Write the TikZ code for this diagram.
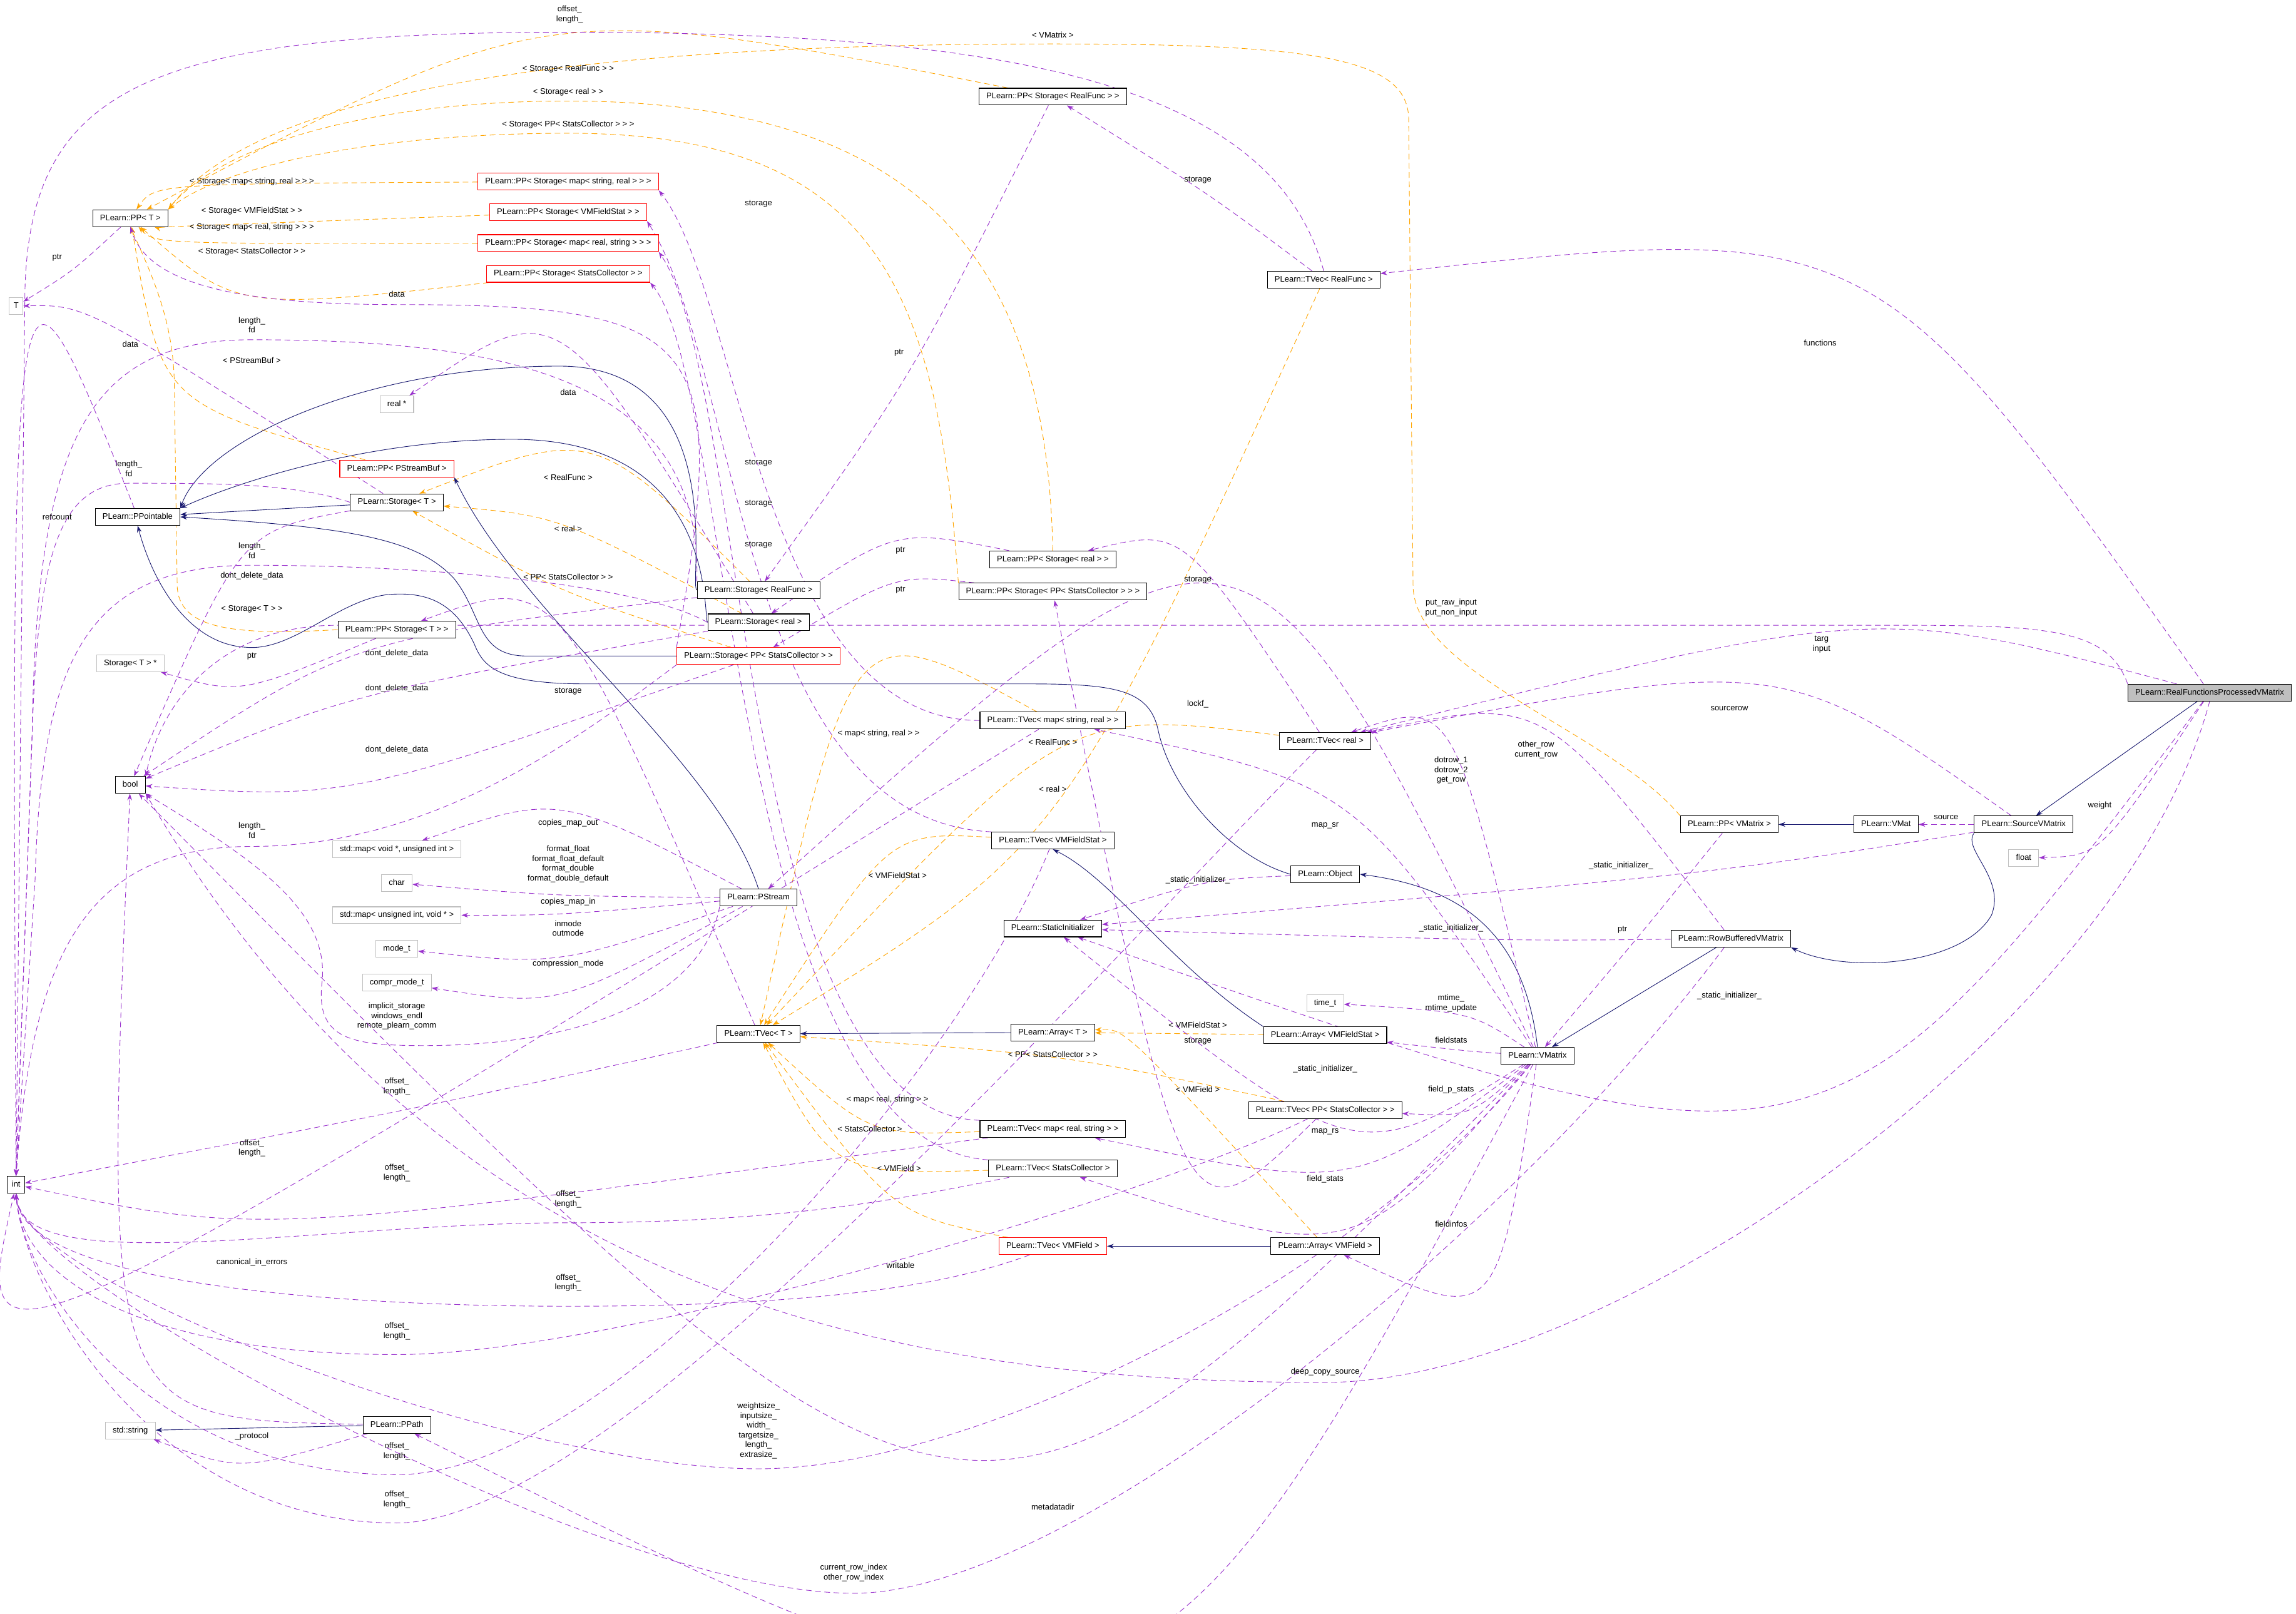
\documentclass[tikz,border=0pt]{standalone}
\usepackage{fontspec}
\setmainfont{Liberation Sans}
\usetikzlibrary{arrows.meta,calc}
\definecolor{purp}{RGB}{154,50,205}
\definecolor{orng}{RGB}{255,165,0}
\definecolor{navy}{RGB}{25,25,112}
\definecolor{gbd}{RGB}{191,191,191}
\pgfdeclarelayer{bg}
\pgfsetlayers{bg,main}
\newcounter{lab}
\newcommand\Lb[2]{\stepcounter{lab}\node[lbl] (lab\arabic{lab}) at (#1) {#2};}
\newcommand\Ed[6]{\draw[#1] (#2) .. controls ($2*(#4)-0.5*(#2)-0.5*(#3)$) .. (#3); \Lb{#5}{#6}}
\newcommand\Ei[5]{\draw[use] (#1) .. controls ($(#1)+(#2)$) and ($(#3)+(150,0)$) .. (#3) .. controls ($(#3)+(-170,0)$) and ($(int.south)+(4,60)$) .. (int.south); \Lb{#4}{#5}}
\tikzset{
 base/.style={font=\fontsize{15.8pt}{18pt}\selectfont, inner xsep=5mm, text height=4.1mm, text depth=1.2mm, minimum height=11.5mm, line width=1.3pt, fill=white},
 cls/.style={base, draw=black},
 clsred/.style={base, draw=red},
 ext/.style={base, draw=gbd},
 root/.style={base, draw=black, fill=gbd},
 lbl/.style={font=\fontsize{15.8pt}{19pt}\selectfont, align=center, inner sep=0pt},
 use/.style={draw=purp, line width=1.1pt, dash pattern=on 11pt off 7pt, -{Stealth[length=13pt,width=9pt]}},
 tmpl/.style={draw=orng, line width=1.1pt, dash pattern=on 11pt off 7pt, -{Stealth[length=13pt,width=9pt]}},
 inh/.style={draw=navy, line width=1.1pt, -{Stealth[length=13pt,width=9pt]}},
}
\begin{document}
\begin{tikzpicture}[x=1mm,y=-1mm]
\useasboundingbox (0,0) rectangle (1568,1102);
\node[cls] (ppT) at (89,149) {PLearn::PP< T >};
\node[ext, inner xsep=3mm] (T) at (11,209) {T};
\node[cls] (pptbl) at (94,353) {PLearn::PPointable};
\node[cls] (sT) at (271,343) {PLearn::Storage< T >};
\node[clsred] (ppPSB) at (271,320) {PLearn::PP< PStreamBuf >};
\node[ext] (realp) at (271,276) {real *};
\node[clsred] (ppsmsr) at (388,124) {PLearn::PP< Storage< map< string, real > > >};
\node[clsred] (ppsvfs) at (388,145) {PLearn::PP< Storage< VMFieldStat > >};
\node[clsred] (ppsmrs) at (388,166) {PLearn::PP< Storage< map< real, string > > >};
\node[clsred] (ppssc) at (388,187) {PLearn::PP< Storage< StatsCollector > >};
\node[cls] (sRF) at (518,403) {PLearn::Storage< RealFunc >};
\node[cls] (sr) at (518,425) {PLearn::Storage< real >};
\node[clsred] (sppsc) at (518,448) {PLearn::Storage< PP< StatsCollector > >};
\node[cls] (ppST) at (271,430) {PLearn::PP< Storage< T > >};
\node[ext] (sTp) at (89,453) {Storage< T > *};
\node[cls] (bool) at (89,536) {bool};
\node[ext] (map1) at (271,580) {std::map< void *, unsigned int >};
\node[ext] (chr) at (271,603) {char};
\node[ext] (map2) at (271,625) {std::map< unsigned int, void * >};
\node[ext] (modet) at (271,648) {mode\_t};
\node[ext] (compr) at (271,671) {compr\_mode\_t};
\node[cls] (ps) at (518,613) {PLearn::PStream};
\node[cls] (tvT) at (518,706) {PLearn::TVec< T >};
\node[cls, inner xsep=3mm] (int) at (11,809) {int};
\node[ext] (str) at (89,977) {std::string};
\node[cls] (ppath) at (271,973) {PLearn::PPath};
\node[cls] (ppsRF) at (719,66) {PLearn::PP< Storage< RealFunc > >};
\node[cls] (tvRF) at (904,191) {PLearn::TVec< RealFunc >};
\node[cls] (ppsr) at (719,382) {PLearn::PP< Storage< real > >};
\node[cls] (ppsppsc) at (719,404) {PLearn::PP< Storage< PP< StatsCollector > > >};
\node[cls] (tvmsr) at (719,492) {PLearn::TVec< map< string, real > >};
\node[cls] (tvr) at (905,506) {PLearn::TVec< real >};
\node[cls] (tvvfs) at (719,574) {PLearn::TVec< VMFieldStat >};
\node[cls] (si) at (719,634) {PLearn::StaticInitializer};
\node[cls] (obj) at (905,597) {PLearn::Object};
\node[cls] (aT) at (719,705) {PLearn::Array< T >};
\node[cls] (avfs) at (905,707) {PLearn::Array< VMFieldStat >};
\node[ext] (timet) at (905,685) {time\_t};
\node[cls] (vm) at (1050,721) {PLearn::VMatrix};
\node[cls] (tvppsc) at (905,758) {PLearn::TVec< PP< StatsCollector > >};
\node[cls] (tvmrs) at (719,771) {PLearn::TVec< map< real, string > >};
\node[cls] (tvsc) at (719,798) {PLearn::TVec< StatsCollector >};
\node[clsred] (tvvf) at (719,851) {PLearn::TVec< VMField >};
\node[cls] (avf) at (905,851) {PLearn::Array< VMField >};
\node[cls] (ppVM) at (1181,563) {PLearn::PP< VMatrix >};
\node[cls] (vmat) at (1288,563) {PLearn::VMat};
\node[cls] (sv) at (1382,563) {PLearn::SourceVMatrix};
\node[cls] (rb) at (1182,641) {PLearn::RowBufferedVMatrix};
\node[root] (rf) at (1509,473) {PLearn::RealFunctionsProcessedVMatrix};
\node[ext] (flt) at (1382,586) {float};
\begin{pgfonlayer}{bg}
\fill[white] (0,0) rectangle (1568,1102);
\Ed{tmpl}{ppsmsr}{ppT}{172,131}{172,124}{< Storage< map< string, real > > >}
\Ed{tmpl}{ppsvfs}{ppT}{172,151}{172,144}{< Storage< VMFieldStat > >}
\Ed{tmpl}{ppsmrs}{ppT}{172,162}{172,155}{< Storage< map< real, string > > >}
\Ed{tmpl}{ppssc}{ppT}{200,190}{172,172}{< Storage< StatsCollector > >}
\Ed{tmpl}{ppPSB}{ppT}{145,255}{172,246}{< PStreamBuf >}
\draw[tmpl] (ppST.west) .. controls (160,434) and (122,430) .. (121,400) -- (119,260) .. controls (118,220) and (105,190) .. (ppT.south);
\Lb{172,416}{< Storage< T > >}
\Ed{tmpl}{ppsRF}{ppT}{388,53}{388,47}{< Storage< RealFunc > >}
\draw[tmpl] (ppsr.north) .. controls (715,200) and (650,69) .. (388,69) .. controls (250,69) and (150,100) .. (ppT.north east);
\Lb{388,63}{< Storage< real > >}
\draw[tmpl] (ppsppsc.north west) .. controls (640,200) and (600,91) .. (388,91) .. controls (250,91) and (150,115) .. (ppT.north east);
\Lb{388,85}{< Storage< PP< StatsCollector > > >}
\draw[tmpl] (ppVM.north west) .. controls (1100,500) and (966,460) .. (965,400) -- (962,80) .. controls (960,40) and (900,30) .. (719,30) .. controls (400,30) and (180,60) .. (ppT.north east);
\Lb{719,24}{< VMatrix >}
\Ed{tmpl}{sRF}{sT}{400,332}{388,326}{< RealFunc >}
\Ed{tmpl}{sr}{sT}{388,368}{388,361}{< real >}
\Ed{tmpl}{sppsc}{sT}{388,400}{388,394}{< PP< StatsCollector > >}
\Ed{tmpl}{tvmsr}{tvT}{600,508}{600,501}{< map< string, real > >}
\Ed{tmpl}{tvRF}{tvT}{719,513}{719,507}{< RealFunc >}
\Ed{tmpl}{tvr}{tvT}{719,545}{719,539}{< real >}
\Ed{tmpl}{tvvfs}{tvT}{613,604}{613,598}{< VMFieldStat >}
\Ed{tmpl}{tvppsc}{tvT}{719,726}{719,720}{< PP< StatsCollector > >}
\Ed{tmpl}{tvmrs}{tvT}{606,757}{606,751}{< map< real, string > >}
\Ed{tmpl}{tvsc}{tvT}{594,777}{594,771}{< StatsCollector >}
\Ed{tmpl}{tvvf}{tvT}{614,804}{614,798}{< VMField >}
\Ed{tmpl}{avfs}{aT}{818,706}{818,700}{< VMFieldStat >}
\Ed{tmpl}{avf}{aT}{790,740}{818,744}{< VMField >}
\draw[inh] (sT) -- (pptbl);
\draw[inh] (sRF.west) .. controls (470,400) and (500,250) .. (382,250) .. controls (250,250) and (140,300) .. (pptbl.north east);
\draw[inh] (sr.west) .. controls (480,420) and (490,300) .. (350,300) .. controls (250,300) and (160,330) .. (pptbl.north east);
\draw[inh] (sppsc.west) -- (360,448) .. controls (325,448) and (330,420) .. (310,395) .. controls (285,368) and (240,360) .. (pptbl.east);
\draw[inh] (obj.west) .. controls (840,585) and (800,540) .. (791,499) .. controls (785,470) and (760,467) .. (700,467) -- (400,467) .. controls (340,467) and (330,455) .. (324,440) .. controls (310,410) and (290,404) .. (265,406) .. controls (230,410) and (200,445) .. (168,442) .. controls (130,440) and (105,400) .. (pptbl.south);
\draw[inh] (ps.north) .. controls (490,520) and (355,420) .. (ppPSB.south east);
\draw[inh] (aT) -- (tvT);
\draw[inh] (avfs.north west) .. controls (800,660) and (760,600) .. (tvvfs.south);
\draw[inh] (avf) -- (tvvf);
\draw[inh] (vm.north) .. controls (1040,630) and (990,605) .. (obj.east);
\draw[inh] (rb) -- (vm);
\draw[inh] (sv.south west) .. controls (1340,580) and (1370,600) .. (1360,625) .. controls (1340,660) and (1260,665) .. (rb.south east);
\draw[inh] (rf) -- (sv);
\draw[inh] (vmat) -- (ppVM);
\draw[inh] (ppath) -- (str);
\Ed{use}{ppT}{T}{50,182}{39,176}{ptr}
\Ed{use}{sT}{T}{100,242}{89,235}{data}
\draw[use] (sppsc.north west) .. controls (500,230) and (480,208) .. (271,208) .. controls (150,208) and (100,190) .. (ppT.south);
\Lb{271,201}{data}
\draw[use] (sRF.north west) .. controls (480,260) and (350,232) .. (172,232) .. controls (60,232) and (25,300) .. (22,500) -- (int.north);
\Lb{172,222}{length\_\\fd}
\draw[use] (sT.west) .. controls (200,330) and (150,330) .. (88,330) .. controls (40,330) and (26,380) .. (22,500) -- (int.north);
\Lb{88,320}{length\_\\fd}
\draw[use] (sr.west) .. controls (440,400) and (300,386) .. (172,386) .. controls (60,386) and (28,450) .. (24,600) -- (int.north);
\Lb{172,376}{length\_\\fd}
\draw[use] (sppsc.south west) .. controls (400,500) and (300,578) .. (172,578) .. controls (60,578) and (22,650) .. (int.north);
\Lb{172,567}{length\_\\fd}
\Ed{use}{pptbl}{int}{30,358}{39,353}{refcount}
\Ed{use}{sT}{bool}{172,401}{172,393}{dont\_delete\_data}
\Ed{use}{sRF}{bool}{271,453}{271,446}{dont\_delete\_data}
\Ed{use}{sr}{bool}{271,477}{271,470}{dont\_delete\_data}
\Ed{use}{sppsc}{bool}{271,519}{271,512}{dont\_delete\_data}
\Ed{use}{ppST}{sTp}{172,458}{172,448}{ptr}
\Ed{use}{sr}{realp}{388,275}{388,268}{data}
\Ed{use}{tvT}{ppST}{388,479}{388,472}{storage}
\draw[use] (tvmsr.west) .. controls (520,492) and (505,200) .. (ppsmsr.south east); \Lb{518,139}{storage}
\draw[use] (tvvfs.north west) .. controls (505,560) and (505,250) .. (ppsvfs.south east); \Lb{518,316}{storage}
\draw[use] (tvmrs.north west) .. controls (505,760) and (510,260) .. (ppsmrs.south east); \Lb{518,344}{storage}
\draw[use] (tvsc.north west) .. controls (500,780) and (500,260) .. (ppssc.south east); \Lb{518,372}{storage}
\Ed{use}{tvRF}{ppsRF}{818,130}{818,123}{storage}
\Ed{use}{tvr}{ppsr}{810,402}{818,396}{storage}
\Ed{use}{tvppsc}{ppsppsc}{810,717}{818,711}{storage}
\Ed{use}{ppsRF}{sRF}{620,247}{614,241}{ptr}
\Ed{use}{ppsr}{sr}{615,382}{615,376}{ptr}
\Ed{use}{ppsppsc}{sppsc}{615,409}{615,403}{ptr}
\draw[use] (tvRF.north) .. controls (870,60) and (700,22) .. (389,22) .. controls (100,22) and (20,60) .. (17,200) -- (int.north);
\Lb{389,10}{offset\_\\length\_}
\Ed{use}{ps}{map1}{388,569}{388,562}{copies\_map\_out}
\Ed{use}{ps}{chr}{388,610}{388,590}{format\_float\\format\_float\_default\\format\_double\\format\_double\_default}
\Ed{use}{ps}{map2}{388,622}{388,616}{copies\_map\_in}
\Ed{use}{ps}{modet}{388,645}{388,634}{inmode\\outmode}
\Ed{use}{ps}{compr}{388,665}{388,658}{compression\_mode}
\draw[use] (ps.south west) .. controls (480,680) and (400,714) .. (290,714) .. controls (240,714) and (215,710) .. (220,670) .. controls (225,620) and (170,585) .. (bool.south east);
\Lb{271,694}{implicit\_storage\\windows\_endl\\remote\_plearn\_comm}
\Ed{use}{tvT}{int}{271,758}{271,742}{offset\_\\length\_}
\Ed{use}{tvmsr}{int}{172,800}{172,784}{offset\_\\length\_}
\Ed{use}{tvmrs}{int}{271,817}{271,801}{offset\_\\length\_}
\Ei{tvsc}{-100,20}{388,835}{388,819}{offset\_\\length\_}
\Ei{tvvf}{-80,30}{388,892}{388,876}{offset\_\\length\_}
\Ei{tvppsc}{-120,60}{271,925}{271,909}{offset\_\\length\_}
\Ei{tvvfs}{-60,150}{271,1007}{271,991}{offset\_\\length\_}
\Ei{tvr}{-150,150}{271,1040}{271,1024}{offset\_\\length\_}
\Ei{vm}{-120,150}{518,1003}{518,977}{weightsize\_\\inputsize\_\\width\_\\targetsize\_\\length\_\\extrasize\_}
\Ei{rb}{-150,200}{583,1088}{583,1074}{current\_row\_index\\other\_row\_index}
\Ed{use}{ppath}{bool}{125,862}{172,862}{canonical\_in\_errors}
\Ed{use}{ppath}{str}{172,990}{172,981}{\_protocol}
\Ed{use}{vm}{ppath}{719,1036}{719,1029}{metadatadir}
\Ed{use}{vm}{bool}{615,871}{615,864}{writable}
\draw[use] (rf.south) .. controls (1450,700) and (1100,944) .. (905,944) .. controls (600,944) and (300,880) .. (bool.south east);
\Lb{905,937}{deep\_copy\_source}
\draw[use] (rf.north west) .. controls (1440,430) and (1400,427) .. (1300,427) -- (230,427) .. controls (150,427) and (110,480) .. (bool.north east);
\Lb{991,415}{put\_raw\_input\\put\_non\_input}
\Ed{use}{rf}{tvr}{1244,451}{1244,440}{targ\\input}
\Ed{use}{sv}{tvr}{1181,491}{1181,484}{sourcerow}
\Ed{use}{rb}{tvr}{1049,524}{1049,512}{other\_row\\current\_row}
\Ed{use}{vm}{tvr}{985,545}{991,526}{dotrow\_1\\dotrow\_2\\get\_row}
\Ed{use}{vm}{tvmsr}{905,571}{905,564}{map\_sr}
\Ed{use}{vm}{ps}{818,490}{818,481}{lockf\_}
\Ed{use}{obj}{si}{818,608}{818,601}{\_static\_initializer\_}
\Ed{use}{sv}{si}{1107,598}{1107,591}{\_static\_initializer\_}
\Ed{use}{rb}{si}{991,640}{991,634}{\_static\_initializer\_}
\Ed{use}{rf}{si}{1181,686}{1181,680}{\_static\_initializer\_}
\Ed{use}{vm}{si}{905,738}{905,730}{\_static\_initializer\_}
\Ed{use}{ppVM}{vm}{1118,640}{1108,635}{ptr}
\Ed{use}{vm}{timet}{991,697}{991,685}{mtime\_\\mtime\_update}
\Ed{use}{vm}{avfs}{991,716}{991,710}{fieldstats}
\Ed{use}{vm}{tvppsc}{991,751}{991,744}{field\_p\_stats}
\Ed{use}{vm}{tvmrs}{905,780}{905,773}{map\_rs}
\Ed{use}{vm}{tvsc}{905,812}{905,805}{field\_stats}
\Ed{use}{vm}{avf}{1000,846}{991,836}{fieldinfos}
\draw[use] (sv) -- (vmat); \Lb{1329,558}{source}
\Ed{use}{rf}{flt}{1440,557}{1434,550}{weight}
\Ed{use}{rf}{tvRF}{1243,241}{1243,234}{functions}
\end{pgfonlayer}
\end{tikzpicture}
\end{document}
